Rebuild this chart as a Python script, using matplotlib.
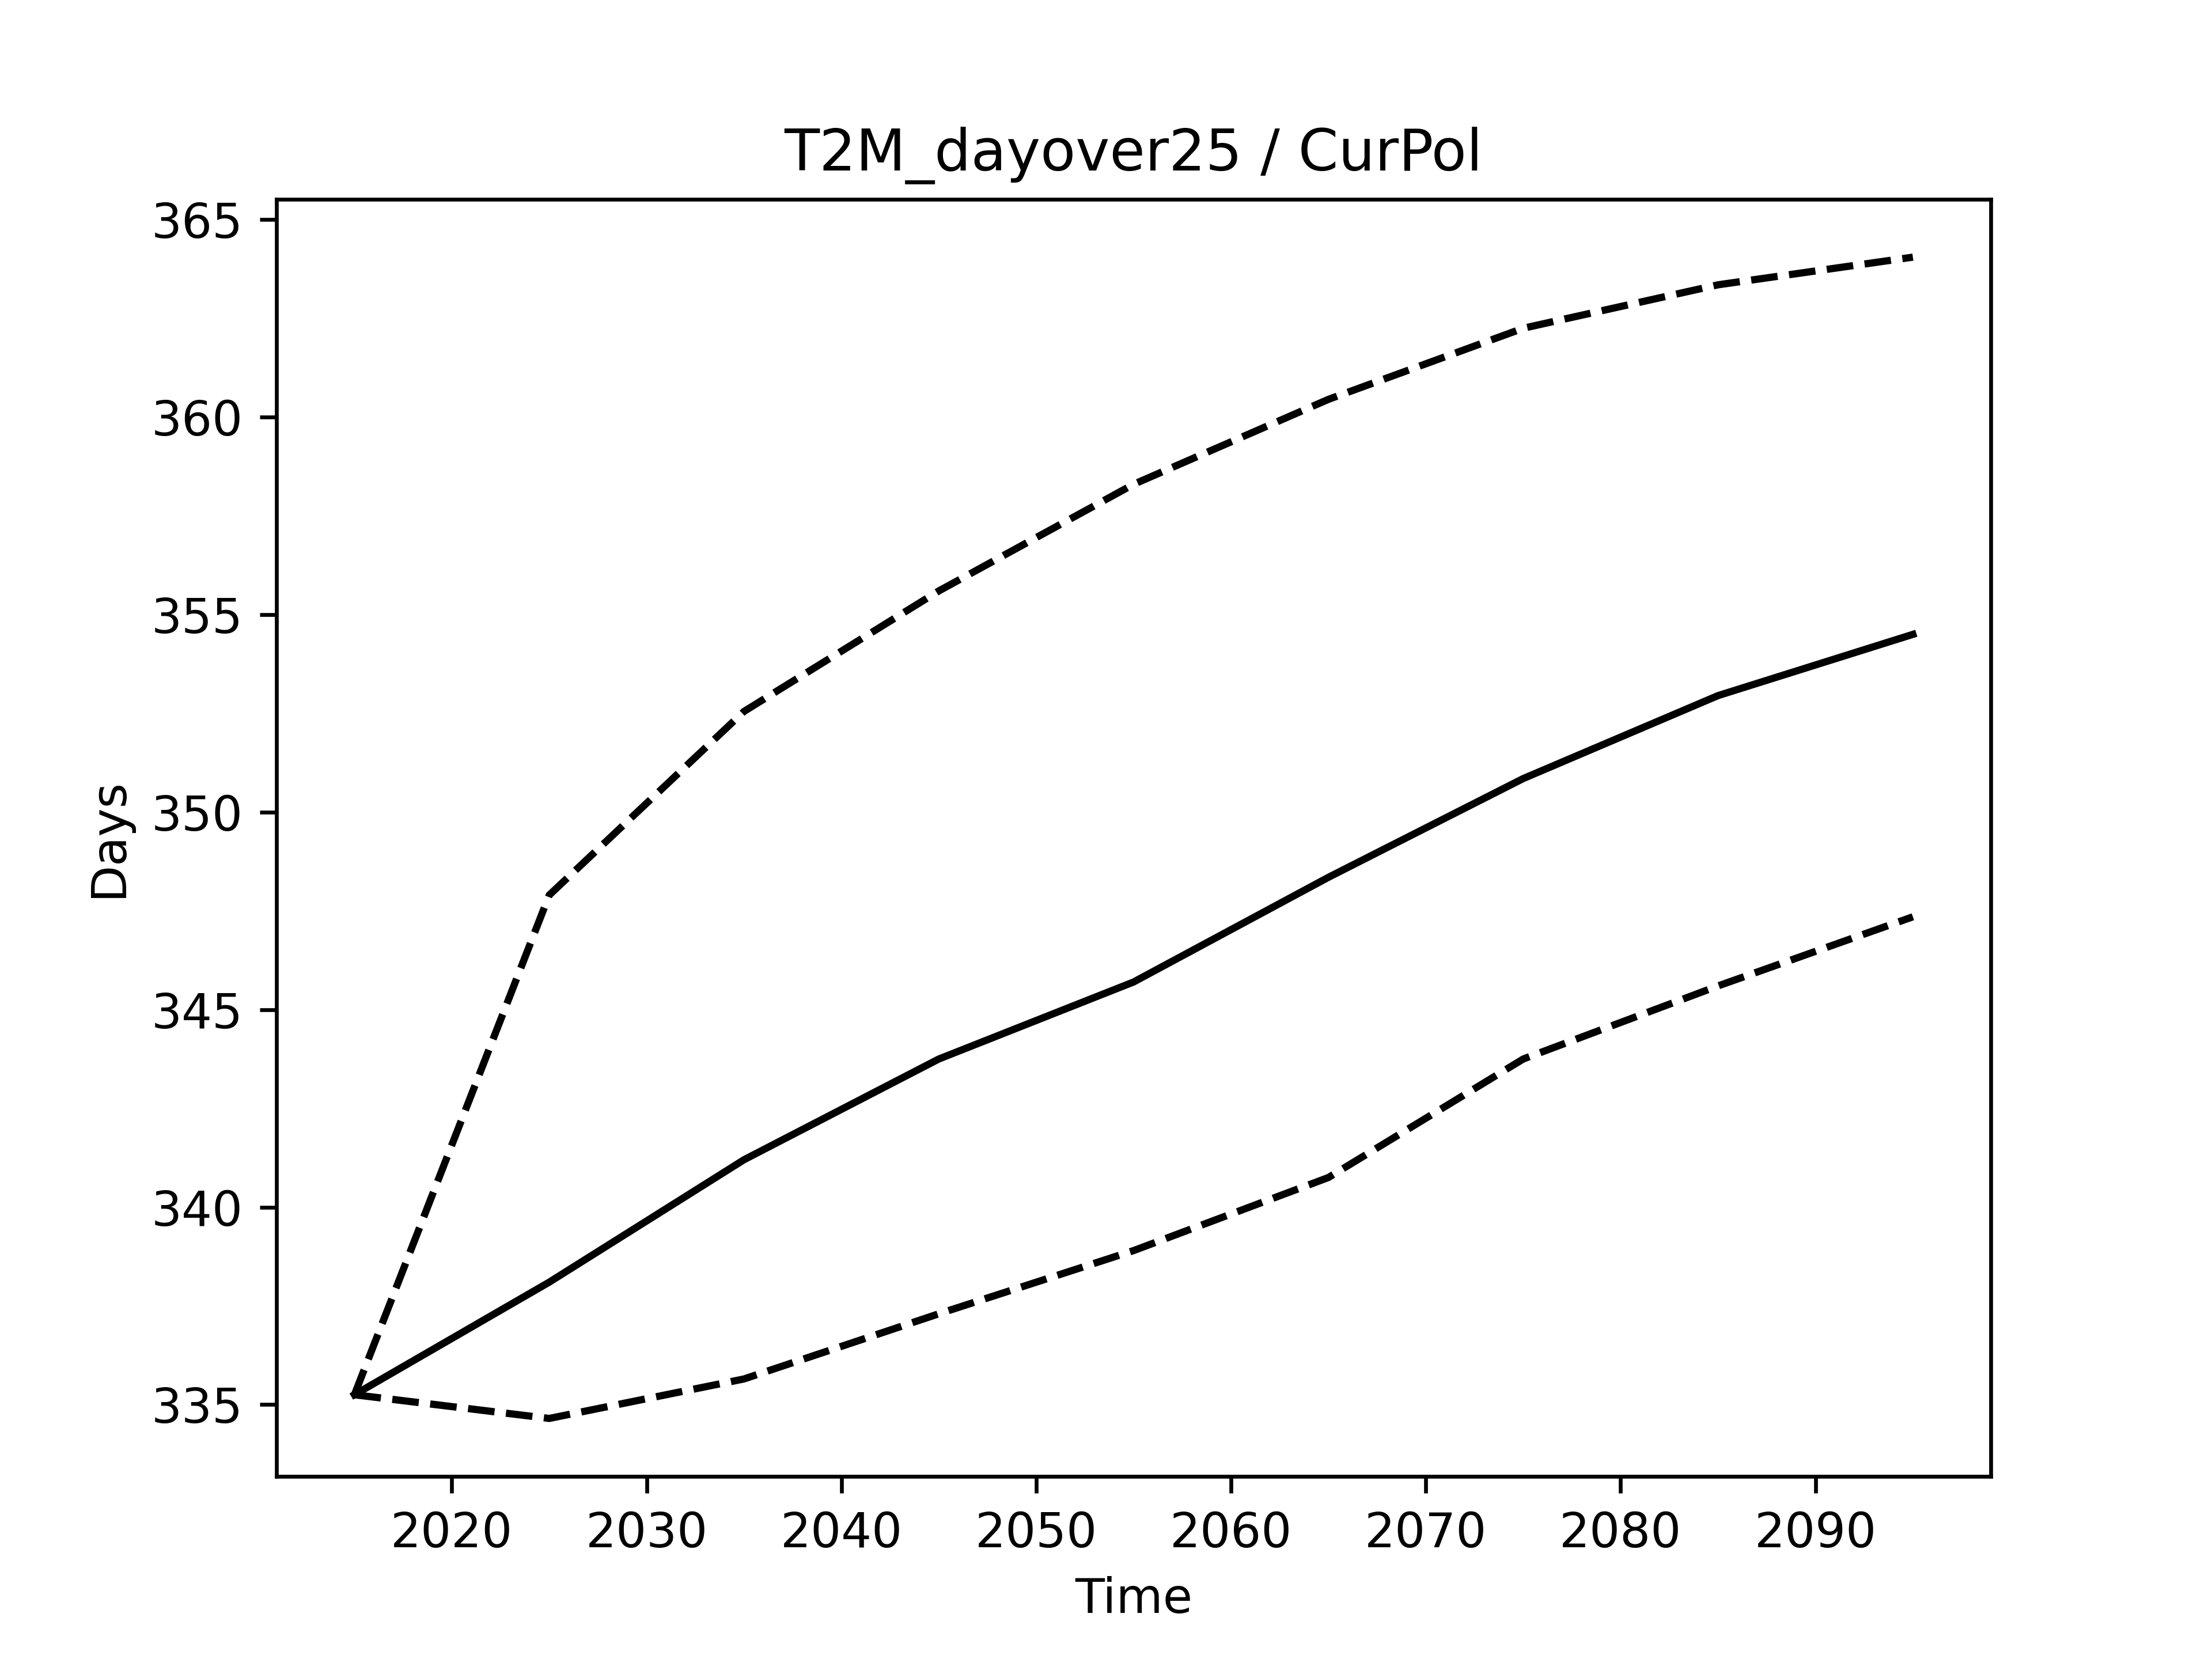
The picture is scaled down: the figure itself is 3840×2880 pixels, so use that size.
import numpy as np
import matplotlib
matplotlib.use("Agg")
import matplotlib.pyplot as plt

# Decade midpoints
years = [2015, 2025, 2035, 2045, 2055, 2065, 2075, 2085, 2095]

# Days over 25 degrees: ensemble mean and spread
mean_days = [335.25, 338.1, 341.2, 343.75, 345.7, 348.35, 350.85, 352.95, 354.5]
upper_days = [335.25, 347.9, 352.55, 355.6, 358.3, 360.45, 362.25, 363.35, 364.05]
lower_days = [335.25, 334.65, 335.65, 337.3, 338.9, 340.75, 343.75, 345.6, 347.35]

fig, ax = plt.subplots(figsize=(6.4, 4.8))
ax.plot(years, mean_days, color="black", linestyle="-")
ax.plot(years, upper_days, color="black", linestyle="--")
ax.plot(years, lower_days, color="black", linestyle="--")

ax.set_title("T2M_dayover25 / CurPol")
ax.set_xlabel("Time")
ax.set_ylabel("Days")

fig.savefig("out.png", dpi=600)
